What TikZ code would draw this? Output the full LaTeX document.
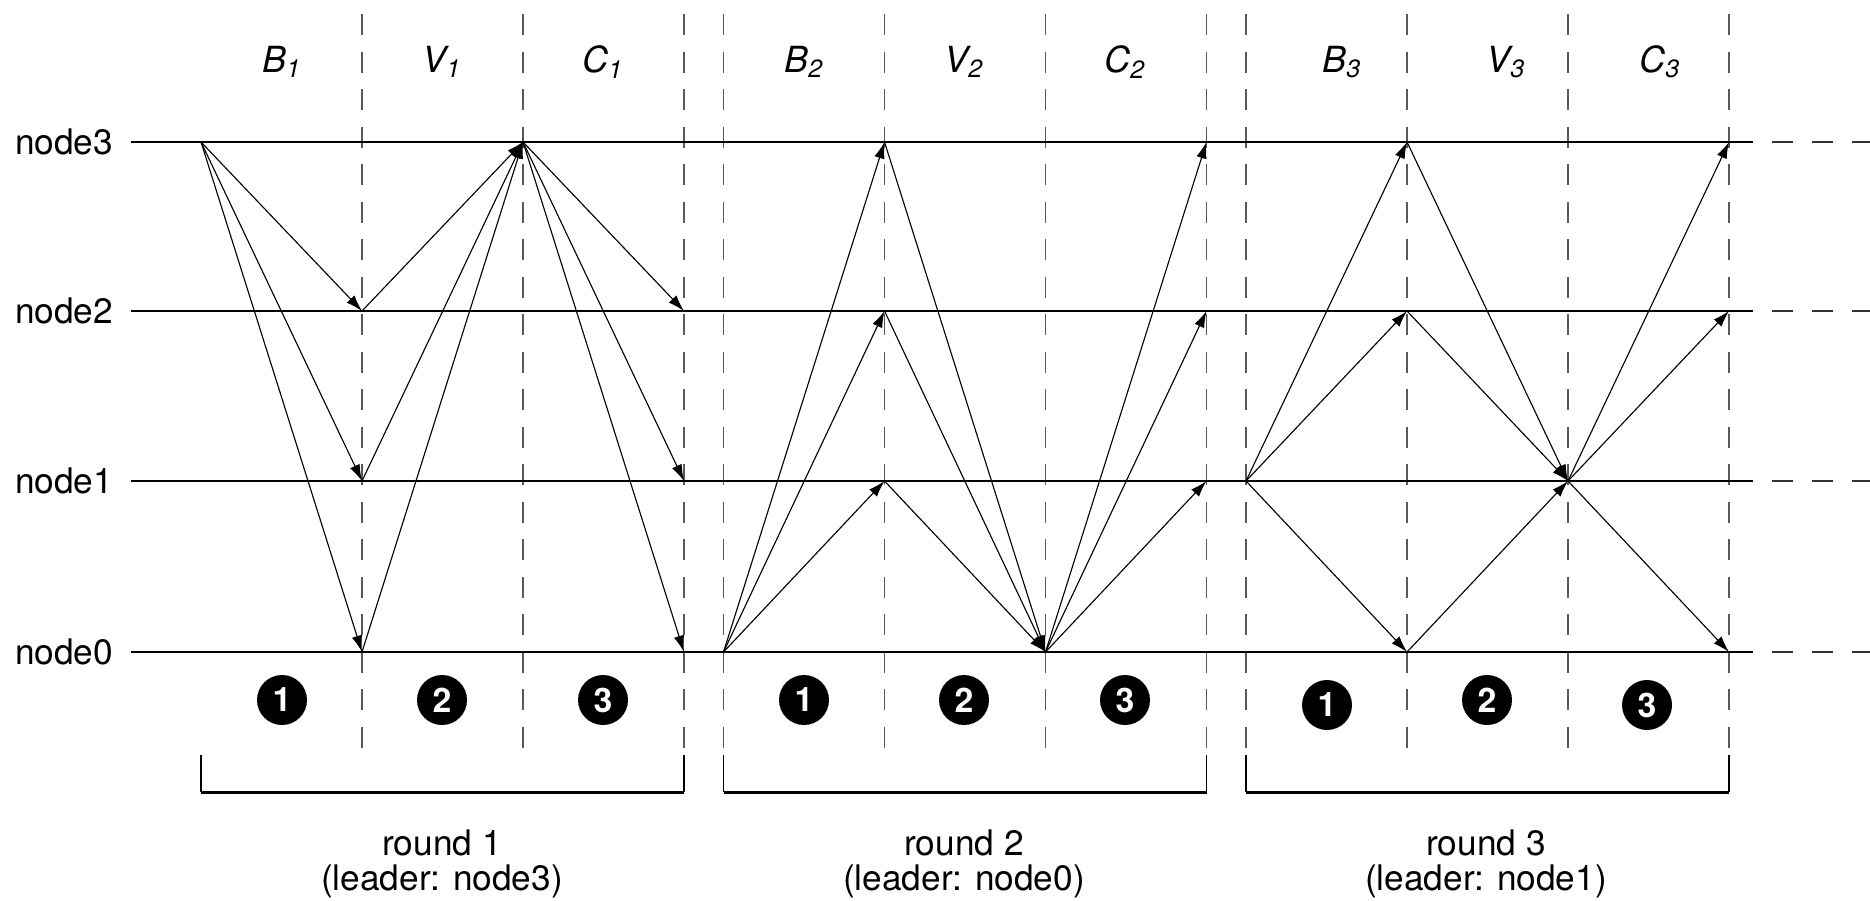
\documentclass[tikz,border=0pt]{standalone}
\usepackage{fontspec}
\setmainfont{TeX Gyre Heros}
\usetikzlibrary{arrows.meta}
\begin{document}
\begin{tikzpicture}[x=0.4pt,y=-0.4pt,
  every node/.style={inner sep=0pt, outer sep=0pt},
  lbl/.style={font=\fontsize{14.1}{16}\selectfont},
  phase/.style={font=\fontsize{14.4}{16}\selectfont\itshape},
  timeline/.style={line width=1.1pt, black},
  tail/.style={line width=1.1pt, black!80, dash pattern=on 8.4pt off 7.6pt, dash phase=8.4pt},
  slot/.style={line width=0.6pt, black!65, dash pattern=on 8.4pt off 6.6pt},
  msg/.style={line width=0.45pt, -{Latex[length=6.6pt,width=4.2pt]}},
  stepno/.style={circle, fill=black, minimum size=20pt, text=white,
    font=\fontsize{13.5}{13.5}\selectfont\bfseries},
  brace/.style={line width=0.5pt},
  bracebase/.style={line width=1.2pt},
]
\useasboundingbox (0,0) rectangle (1870,900);

% event points: p<round><column><node>
\foreach \r/\x in {1/201,2/723.5,3/1246} {
  \foreach \k in {0,...,3} {
    \pgfmathsetmacro\cx{\x+161*\k}
    \foreach \n/\y in {3/142,2/311,1/481,0/652} {
      \coordinate (p\r\k\n) at (\cx,\y);
    }
    \coordinate (top\r\k) at (\cx,14);
    \coordinate (bot\r\k) at (\cx,752);
    \coordinate (brt\r\k) at (\cx,755);
    \coordinate (brb\r\k) at (\cx,792);
  }
}

% phase boundaries
\foreach \r/\k in {1/1,1/2,1/3,2/0,2/1,2/2,2/3,3/0,3/1,3/2,3/3} {
  \draw[slot] (top\r\k) -- (bot\r\k);
}

% node timelines
\foreach \n/\y in {3/142,2/311,1/481,0/652} {
  \node[lbl, anchor=west] (lab\n) at (15,\y) {node\n};
  \coordinate (s\n) at (131,\y);
  \coordinate (e\n) at (1753,\y);
  \coordinate (t\n) at (1870,\y);
  \draw[timeline] (s\n) -- (e\n);
  \draw[tail] (e\n) -- (t\n);
}

% messages: broadcast, vote, commit
\foreach \r/\L in {1/3,2/0,3/1} {
  \foreach \n in {0,...,3} {
    \ifnum\n=\L\relax\else
      \draw[msg] (p\r0\L) -- (p\r1\n);
      \draw[msg] (p\r1\n) -- (p\r2\L);
      \draw[msg] (p\r2\L) -- (p\r3\n);
    \fi
  }
}

% phase names
\foreach \nm/\s/\x in {B/1/282,V/1/442,C/1/603,B/2/804,V/2/964,C/2/1125,B/3/1342,V/3/1506,C/3/1660} {
  \node[phase] (ph\nm\s) at (\x,62) {\nm\textsubscript{\s}};
}

% step numbers
\foreach \i/\d/\x/\y in {1/1/282/700,2/2/442/700,3/3/603/700,
                         4/1/804/700,5/2/964/700,6/3/1125/700,
                         7/1/1327/705,8/2/1487/700,9/3/1647/705} {
  \node[stepno] (st\i) at (\x,\y) {\d};
}

% rounds
\foreach \r/\L/\cx in {1/3/442,2/0/964,3/1/1486} {
  \draw[brace] (brb\r0) -- (brt\r0);
  \draw[brace] (brb\r3) -- (brt\r3);
  \draw[bracebase] (brb\r0) -- (brb\r3);
  \node[lbl] (rnd\r) at (\cx,843) {round \r};
  \node[lbl] (ldr\r) at (\cx,881) {(leader: node\L)};
}
\end{tikzpicture}
\end{document}
